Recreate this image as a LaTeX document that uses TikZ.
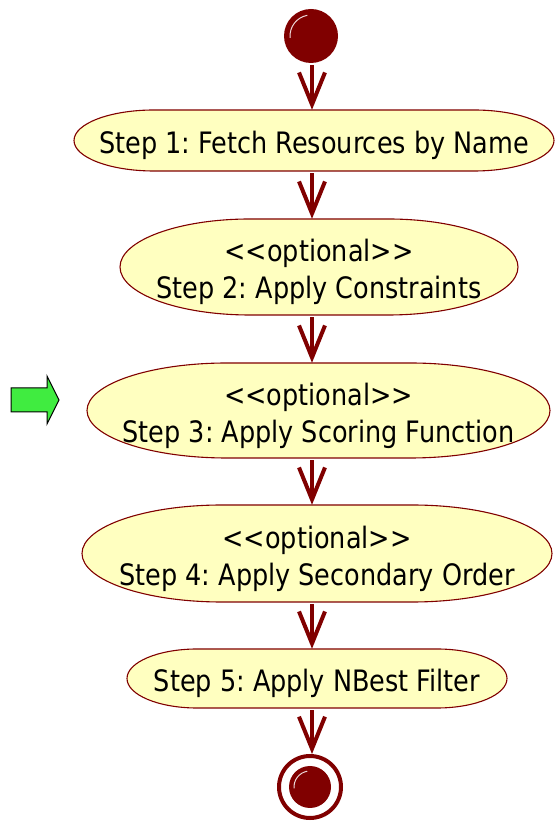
\documentclass[tikz,border=0pt]{standalone}
\usepackage{fontspec}
\setmainfont{DejaVu Sans}[FakeStretch=0.865]
\usetikzlibrary{arrows.meta}
\definecolor{maroon}{RGB}{128,0,0}
\definecolor{boxfill}{RGB}{255,255,192}
\definecolor{arrowgreen}{RGB}{64,236,64}
\tikzset{
  boxshape/.style={fill=boxfill,draw=maroon,line width=1.1pt},
  boxanchor/.style={draw=none,inner sep=0pt},
  steptext/.style={draw=none,inner sep=0pt,align=center,font=\fontsize{29.5}{37}\selectfont\frenchspacing,text=black},
  flow/.style={draw=maroon,line width=4pt,-{Straight Barb[length=32pt,width=26pt]},shorten <=2pt},
  initnode/.style={circle,fill=maroon,minimum size=54pt,inner sep=0pt},
  finalnode/.style={circle,draw=maroon,line width=4pt,fill=white,minimum size=62pt,inner sep=0pt},
  shine/.style={draw=white!85!maroon,line width=1pt},
  greenarrow/.style={fill=arrowgreen,draw=black,line width=1pt,line join=miter},
}
\newcommand\stepbox[7]{%
  \filldraw[boxshape] (#2-#4/2+#6,#3+#5/2) -- (#2+#4/2-#6,#3+#5/2)
    arc[start angle=90,end angle=-90,x radius=#6,y radius=#5/2]
    -- (#2-#4/2+#6,#3-#5/2)
    arc[start angle=270,end angle=90,x radius=#6,y radius=#5/2] -- cycle;
  \node[boxanchor,minimum width=#4,minimum height=#5] (#1) at (#2,#3) {};
  \node[steptext] (#1t) at (#2,#3-5) {#7};}
\newcommand\opt{<\kern0pt<optional>\kern0pt>}
\begin{document}
\begin{tikzpicture}[x=1pt,y=1pt]
\useasboundingbox (0,0) rectangle (556,822);
% start
\node[initnode] (start) at (311,786) {};
\draw[shine] ([shift={(100:21)}]start.center) arc[start angle=100,end angle=185,radius=21];
% steps
\stepbox{s1}{314}{681.5}{480}{61}{80}{Step 1: Fetch Resources by Name}
\stepbox{s2}{319}{555}{398}{96}{130}{\opt\\Step 2: Apply Constraints}
\stepbox{s3}{318.5}{411.5}{463}{95}{140}{\opt\\Step 3: Apply Scoring Function}
\stepbox{s4}{317}{268.5}{470}{97}{140}{\opt\\Step 4: Apply Secondary Order}
\stepbox{s5}{317}{143.5}{380}{59}{70}{Step 5: Apply NBest Filter}
% end
\node[finalnode] (end) at (310,35) {};
\fill[maroon] (end.center) circle (21);
\draw[shine] ([shift={(100:16)}]end.center) arc[start angle=100,end angle=185,radius=16];
% green marker
\draw[greenarrow] (11,434) -- (47,434) -- (47,446) -- (59,422) -- (47,398) -- (47,410) -- (11,410) -- cycle;
% flows
\coordinate (axis) at (312,0);
\draw[flow] (start.south -| axis) -- (s1.north -| axis);
\draw[flow] (s1.south -| axis) -- (s2.north -| axis);
\draw[flow] (s2.south -| axis) -- (s3.north -| axis);
\draw[flow] (s3.south -| axis) -- (s4.north -| axis);
\draw[flow] (s4.south -| axis) -- (s5.north -| axis);
\draw[flow] (s5.south -| axis) -- (end.north -| axis);
\end{tikzpicture}
\end{document}
